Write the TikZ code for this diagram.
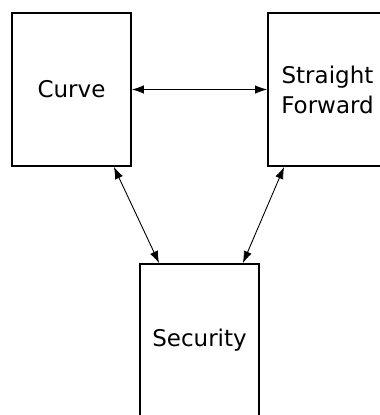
\documentclass[tikz,border=0pt]{standalone}
\usepackage{fontspec}
\setmainfont{DejaVu Sans}
\usetikzlibrary{positioning,arrows.meta}
\tikzset{blockbox/.style={draw,line width=1.8pt,minimum width=119pt,minimum height=153pt,inner sep=0pt,align=center,font=\fontsize{23}{30}\selectfont}}
\tikzset{link/.style={{Latex[length=12pt,width=8.5pt]}-{Latex[length=12pt,width=8.5pt]},line width=0.9pt}}

\begin{document}
\begin{tikzpicture}[x=1pt,y=-1pt]
	\useasboundingbox (0,0) rectangle (380,415);
	\node[blockbox] (curve) at (71.5,89.5) {Curve};
	\node[blockbox] (fwd) at (327.5,89.5) {Straight\\Forward};
	\node[blockbox] (sec) at (199.5,340.5) {Security};
	
	\draw[link] (curve) -- (fwd);
	\draw[link] ([xshift=-18pt]curve.south east) -- ([xshift=20pt]sec.north west);
	\draw[link] ([xshift=17pt]fwd.south west) -- ([xshift=-17pt]sec.north east);
\end{tikzpicture}
\end{document}
